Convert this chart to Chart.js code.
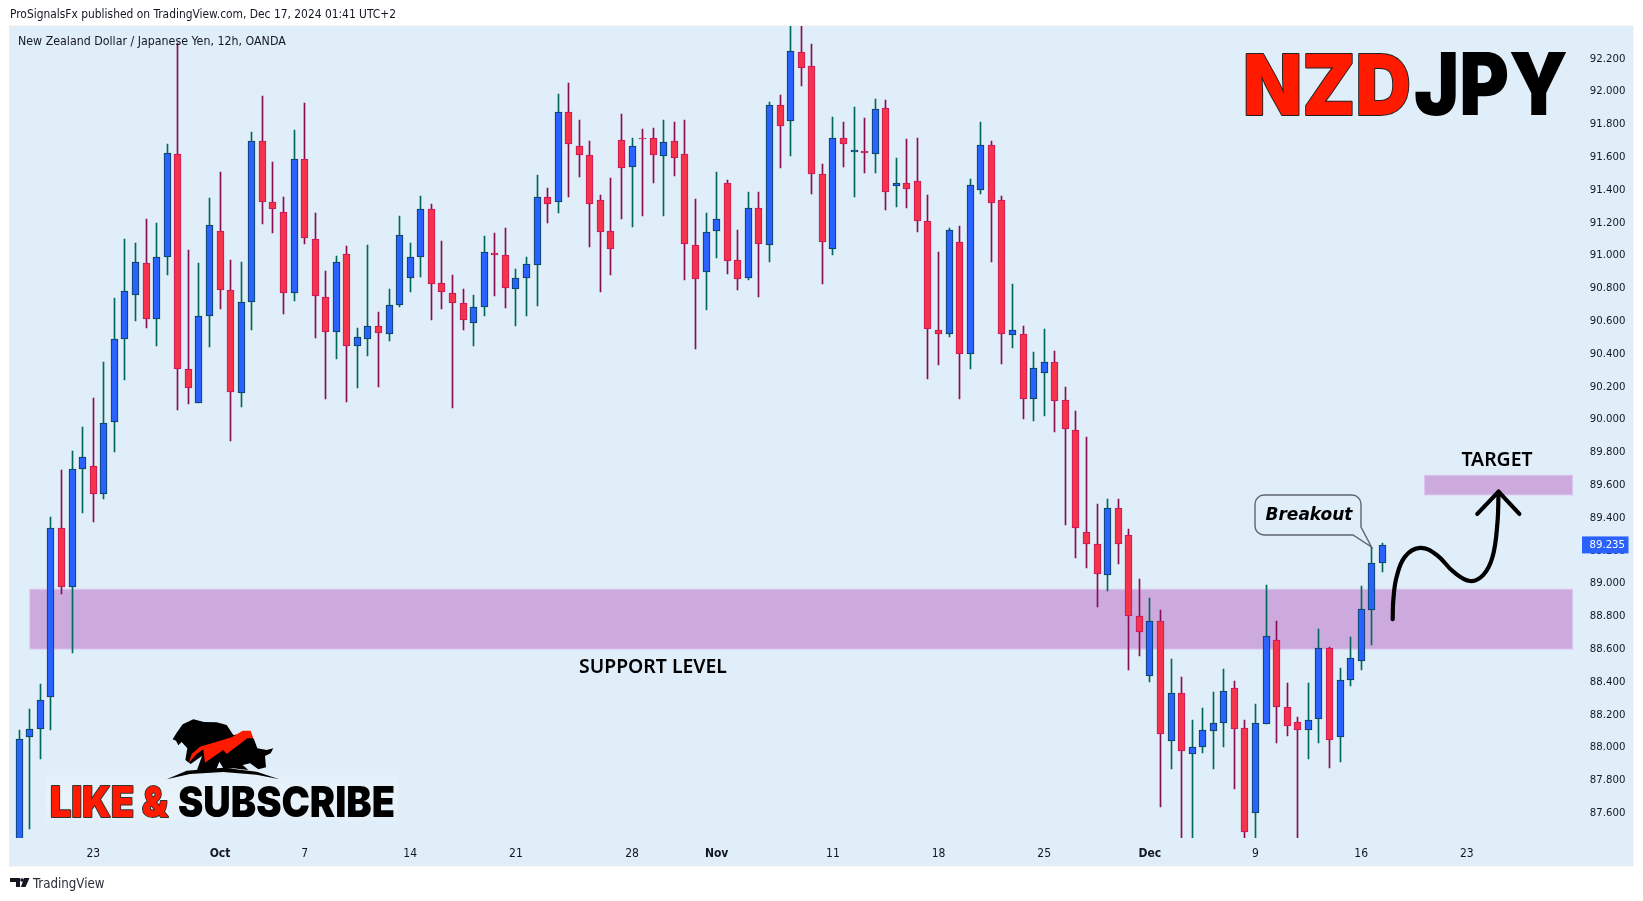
<!DOCTYPE html>
<html>
<head>
<meta charset="utf-8">
<title>NZDJPY</title>
<script src="https://cdn.jsdelivr.net/npm/chart.js@4/dist/chart.umd.min.js"></script>
<style>
html, body { margin: 0; padding: 0; background: #fff; }
canvas { display: block; }
</style>
</head>
<body>
<canvas id="chart" width="1643" height="901"></canvas>
<script>
// 12h candles, oldest first
const opens = [
  87.40,88.062,88.111,88.306,89.336,88.977,89.696,89.715,89.548,89.987,
  90.489,90.757,90.952,90.611,90.989,91.617,90.306,90.099,90.629,91.147,
  90.788,90.160,90.714,91.696,91.324,91.263,90.769,91.586,91.099,90.745,
  90.532,91.007,90.446,90.489,90.568,90.519,90.696,90.861,90.989,91.281,
  90.830,90.769,90.708,90.586,90.684,91.013,91.001,90.794,90.861,90.940,
  91.355,91.324,91.873,91.666,91.611,91.336,91.147,91.702,91.537,91.716,
  91.714,91.605,91.696,91.617,91.062,90.897,91.147,91.440,90.970,90.861,
  91.288,91.062,91.916,91.818,92.239,92.153,91.495,91.038,91.714,91.632,
  91.635,91.617,91.897,91.422,91.440,91.452,91.208,90.544,90.519,91.080,
  90.397,91.397,91.672,91.336,90.513,90.519,90.123,90.282,90.349,90.117,
  89.934,89.312,89.239,89.050,89.459,89.294,88.800,88.434,88.770,88.038,
  88.331,87.959,88.001,88.099,88.147,88.361,88.117,87.600,88.141,88.654,
  88.245,88.153,88.105,88.172,88.605,88.062,88.410,88.525,88.836,89.123
]
const highs = [
  88.107,88.235,88.387,89.404,89.692,89.808,89.952,90.131,90.351,90.739,
  91.101,91.074,91.221,91.196,91.678,92.298,91.034,90.952,91.349,91.507,
  90.973,90.958,91.751,91.973,91.568,91.355,91.763,91.928,91.257,90.903,
  90.995,91.056,90.556,91.062,90.653,90.794,91.239,91.074,91.361,91.312,
  91.086,90.879,90.794,90.757,91.117,91.135,91.166,90.916,90.989,91.489,
  91.409,91.983,92.050,91.824,91.696,91.367,91.470,91.861,91.714,91.769,
  91.775,91.824,91.812,91.824,91.342,91.257,91.507,91.458,91.153,91.385,
  91.385,91.934,91.977,92.45,92.45,92.290,91.556,91.842,91.812,91.903,
  91.836,91.952,91.946,91.592,91.708,91.714,91.367,91.019,91.166,91.178,
  91.464,91.812,91.696,91.361,90.824,90.568,90.410,90.550,90.416,90.196,
  90.050,89.892,89.483,89.514,89.514,89.331,89.026,88.910,88.837,88.538,
  88.428,88.166,88.239,88.336,88.477,88.404,88.166,88.263,88.989,88.769,
  88.391,88.184,88.391,88.721,88.611,88.483,88.672,88.983,89.221,89.245
]
const lows = [
  87.30,87.505,87.932,88.109,88.938,88.578,89.432,89.377,89.517,89.804,
  90.243,90.603,90.560,90.450,90.881,90.060,90.097,90.099,90.444,90.676,
  89.871,90.078,90.548,91.194,91.139,90.645,90.725,91.072,90.499,90.127,
  90.371,90.109,90.194,90.389,90.200,90.481,90.686,90.777,90.871,90.609,
  90.676,90.07,90.548,90.450,90.633,90.755,90.682,90.572,90.633,90.694,
  91.200,91.261,91.359,91.481,91.054,90.779,90.883,91.225,91.176,91.243,
  91.444,91.243,91.487,90.853,90.432,90.670,90.987,90.889,90.792,90.849,
  90.749,90.962,91.536,91.609,92.036,91.377,90.828,91.0,91.542,91.359,
  91.505,91.505,91.279,91.298,91.292,91.145,90.249,90.334,90.501,90.127,
  90.310,91.377,90.962,90.340,90.438,90.005,89.993,90.024,89.926,89.359,
  89.158,89.097,88.859,88.951,89.121,88.475,88.560,88.402,87.640,87.871,
  87.40,87.40,87.969,87.871,88.005,87.746,87.40,87.40,88.141,88.025,
  88.072,87.40,87.932,88.025,87.877,87.914,88.377,88.475,88.627,89.072
]
const closes = [
  88.05,88.111,88.288,89.336,88.977,89.696,89.769,89.548,89.977,90.489,
  90.781,90.958,90.611,90.989,91.623,90.306,90.190,90.629,91.184,90.788,
  90.166,90.714,91.696,91.324,91.281,90.769,91.586,91.105,90.751,90.532,
  90.958,90.446,90.501,90.568,90.525,90.696,91.123,90.989,91.281,90.824,
  90.775,90.708,90.605,90.684,91.019,91.001,90.800,90.861,90.946,91.355,
  91.312,91.873,91.678,91.611,91.312,91.141,91.037,91.531,91.666,91.708,
  91.611,91.690,91.592,91.068,90.855,91.141,91.220,90.964,90.855,91.288,
  91.068,91.916,91.788,92.245,92.141,91.495,91.080,91.714,91.678,91.640,
  91.623,91.891,91.385,91.440,91.403,91.208,90.550,90.519,91.153,90.397,
  91.428,91.672,91.318,90.519,90.544,90.123,90.312,90.349,90.111,89.940,
  89.337,89.239,89.056,89.459,89.239,88.800,88.703,88.770,88.081,88.331,
  87.977,88.001,88.105,88.147,88.343,88.111,87.487,88.147,88.678,88.245,
  88.129,88.105,88.166,88.605,88.044,88.410,88.544,88.842,89.123,89.235
]

// time axis: slot count includes the empty space right of the last candle
const slotCount = 148
const tickSlots = [7, 19, 27, 37, 47, 58, 66, 77, 87, 97, 107, 117, 127, 137]
const tickNames = ['23', 'Oct', '7', '14', '21', '28', 'Nov', '11', '18', '25', 'Dec', '9', '16', '23']
const boldTicks = ['Oct', 'Nov', 'Dec']

const supportZone = [88.6, 88.965]
const supportSlots = [1, 147]
const targetZone = [89.54, 89.66]
const targetSlots = [133, 147]
const lastPrice = 89.235

// hand drawn projection, slot / price pairs
const arrowX = [129.98, 130.04, 130.36, 131.15, 132.57, 134.15, 135.72, 137.3, 138.56, 139.44, 139.89, 140.0]
const arrowY = [88.782, 88.899, 89.042, 89.164, 89.217, 89.174, 89.072, 89.015, 89.052, 89.164, 89.367, 89.56]
const headX = [137.99, 140.0, 141.97]
const headY = [89.424, 89.56, 89.424]

const UP = '#2962ff', UP_EDGE = '#06414a', UP_WICK = '#00695c'
const DOWN = '#f7334b', DOWN_EDGE = '#c2185b', DOWN_WICK = '#880e4f'
const PANEL = '#e0eef9', ZONE = '#cdaade', ZONE_EDGE = '#dcc6f0', INK = '#131722'
const UI_FONT = '"DejaVu Sans Condensed", "DejaVu Sans"'

const labels = Array.from({ length: slotCount }, (_, i) => {
  const k = tickSlots.indexOf(i)
  return k < 0 ? '' : tickNames[k]
})
const isUp = i => closes[i] >= opens[i]

function text(ctx, str, x, y, font, color, align = 'left') {
  ctx.font = font
  ctx.fillStyle = color
  ctx.textAlign = align
  ctx.textBaseline = 'middle'
  ctx.fillText(str, x, y)
}

function poly(ctx, pts, color) {
  ctx.fillStyle = color
  ctx.beginPath()
  pts.forEach((p, i) => i ? ctx.lineTo(p[0], p[1]) : ctx.moveTo(p[0], p[1]))
  ctx.closePath()
  ctx.fill()
}

// heavy logo lettering squeezed to the measured width
function fitText(ctx, str, x, width, base, font, fill, edge) {
  ctx.save()
  ctx.font = font
  ctx.textAlign = 'left'
  ctx.textBaseline = 'alphabetic'
  ctx.translate(x, base)
  ctx.scale(width / ctx.measureText(str).width, 1)
  if (edge) {
    ctx.lineWidth = 2
    ctx.strokeStyle = edge
    ctx.lineJoin = 'round'
    ctx.strokeText(str, 0, 0)
  }
  ctx.fillStyle = fill
  ctx.fillText(str, 0, 0)
  ctx.restore()
}

function drawMascot(ctx) {
  // coordinates noted on a 3x crop with origin 0,680
  const z = p => [p[0] / 3, 680 + p[1] / 3]
  poly(ctx, [[518,178],[530,158],[548,133],[580,118],[612,126],[650,127],[680,135],[700,165],[745,160],[762,178],[772,205],[800,210],[820,205],[812,220],[795,228],[798,262],[775,268],[750,250],[728,255],[745,270],[700,265],[672,268],[658,245],[648,270],[590,273],[606,228],[572,252],[556,240],[562,205],[545,186],[535,196],[528,182]].map(z), '#000')
  poly(ctx, [[566,250],[575,222],[600,200],[650,185],[695,172],[728,152],[752,152],[760,175],[742,175],[680,222],[670,210],[615,248],[610,208],[590,222],[572,242]].map(z), '#ff1a00')
  poly(ctx, [[500,298],[560,272],[670,263],[770,275],[838,298],[770,284],[670,276],[570,282]].map(z), '#000')
}

function drawBubble(ctx) {
  const x0 = 1255, y0 = 495, x1 = 1361, y1 = 535, r = 9
  ctx.beginPath()
  ctx.moveTo(x0 + r, y0)
  ctx.arcTo(x1, y0, x1, y1, r)
  ctx.lineTo(x1, 527)
  ctx.lineTo(1371.5, 547)
  ctx.lineTo(1353, 535)
  ctx.arcTo(x0, y1, x0, y0, r)
  ctx.arcTo(x0, y0, x1, y0, r)
  ctx.closePath()
  ctx.fillStyle = PANEL
  ctx.fill()
  ctx.lineWidth = 1.4
  ctx.strokeStyle = '#5d6670'
  ctx.stroke()
  text(ctx, 'Breakout', 1309, 516, 'italic bold 17px "DejaVu Sans"', '#000', 'center')
}

const backdrop = {
  id: 'backdrop',
  beforeDraw(chart) {
    const { ctx, width, height } = chart
    ctx.save()
    ctx.fillStyle = '#fff'
    ctx.fillRect(0, 0, width, height)
    ctx.fillStyle = PANEL
    ctx.fillRect(9.5, 26, 1623.5, 840)
    ctx.strokeStyle = '#e9edf2'
    ctx.strokeRect(9.5, 26, 1623.5, 840)
    ctx.restore()
  },
  beforeDatasetsDraw(chart) {
    const { ctx, scales: { x, y } } = chart
    const band = (slots, zone) => {
      const l = x.getPixelForValue(slots[0]), r = x.getPixelForValue(slots[1])
      const t = y.getPixelForValue(zone[1]), b = y.getPixelForValue(zone[0])
      ctx.fillStyle = ZONE
      ctx.fillRect(l, t, r - l, b - t)
      ctx.strokeStyle = ZONE_EDGE
      ctx.strokeRect(l, t, r - l, b - t)
    }
    ctx.save()
    band(supportSlots, supportZone)
    band(targetSlots, targetZone)
    ctx.restore()
  },
  afterDraw(chart) {
    const { ctx, scales: { y } } = chart
    ctx.save()
    text(ctx, 'ProSignalsFx published on TradingView.com, Dec 17, 2024 01:41 UTC+2', 10, 15, '11.9px ' + UI_FONT, INK)
    text(ctx, 'New Zealand Dollar / Japanese Yen, 12h, OANDA', 18, 42, '12.3px ' + UI_FONT, INK)
    text(ctx, 'TradingView', 33, 885, '13.2px ' + UI_FONT, '#2a2e39')
    poly(ctx, [[10,878],[20,878],[20,887],[16,887],[16,882],[10,882]], '#131722')
    poly(ctx, [[24,878],[29.5,878],[25.5,887],[21,887]], '#131722')
    ctx.fillStyle = '#131722'
    ctx.beginPath()
    ctx.arc(22, 880, 1.8, 0, Math.PI * 2)
    ctx.fill()

    // price tag sits over the axis labels
    const py = y.getPixelForValue(lastPrice)
    ctx.fillStyle = UP
    ctx.fillRect(1582, py - 8.5, 46.5, 17)
    text(ctx, lastPrice.toFixed(3), 1589.5, py, '11.3px ' + UI_FONT, '#fff')

    fitText(ctx, 'NZD', 1243, 168, 114.5, '900 84px Inter', '#ff1a00', '#222')
    fitText(ctx, 'JPY', 1414, 154, 115, '900 86px Inter', '#000')

    text(ctx, 'TARGET', 1497, 460, '600 19.4px "Noto Sans"', '#000', 'center')
    text(ctx, 'SUPPORT LEVEL', 653, 667.5, '600 19.4px "Noto Sans"', '#000', 'center')
    drawBubble(ctx)

    const glow = ctx.createLinearGradient(0, 765, 0, 825)
    glow.addColorStop(0, 'rgba(240,246,251,0)')
    glow.addColorStop(0.55, 'rgba(240,246,251,0.6)')
    glow.addColorStop(1, 'rgba(240,246,251,0.15)')
    ctx.fillStyle = glow
    ctx.fillRect(46, 765, 352, 56)
    drawMascot(ctx)
    fitText(ctx, 'LIKE &', 50, 118, 817, '900 42px Inter', '#ff1a00', '#333')
    fitText(ctx, 'SUBSCRIBE', 178, 217, 817, '900 42px Inter', '#000')
    ctx.restore()
  }
}

// snap candles to whole pixels so wicks stay crisp like the reference
const snapBars = {
  id: 'snapBars',
  afterDatasetsUpdate(chart) {
    chart.data.datasets.forEach((ds, i) => {
      if (ds.type === 'line') return
      chart.getDatasetMeta(i).data.forEach(el => {
        el.x = Math.round(el.x - 0.5) + 0.5
        el.y = Math.round(el.y)
        el.base = Math.round(el.base)
        if (el.y === el.base) el.base = el.y + 1
      })
    })
  }
}

new Chart(document.getElementById('chart'), {
  type: 'bar',
  data: {
    labels,
    datasets: [
      {
        type: 'line',
        xAxisID: 'xArrow',
        data: arrowX.map((v, i) => ({ x: v, y: arrowY[i] })),
        borderColor: '#000',
        borderWidth: 4.2,
        borderCapStyle: 'round',
        borderJoinStyle: 'round',
        tension: 0.4,
        pointRadius: 0
      },
      {
        type: 'line',
        xAxisID: 'xArrow',
        data: headX.map((v, i) => ({ x: v, y: headY[i] })),
        borderColor: '#000',
        borderWidth: 4.2,
        borderCapStyle: 'round',
        borderJoinStyle: 'round',
        tension: 0,
        pointRadius: 0
      },
      {
        data: opens.map((v, i) => [v, closes[i]]),
        backgroundColor: opens.map((_, i) => isUp(i) ? UP : DOWN),
        borderColor: opens.map((_, i) => isUp(i) ? UP_EDGE : DOWN_EDGE),
        borderWidth: 1,
        borderSkipped: false,
        barThickness: 7,
        grouped: false
      },
      {
        data: lows.map((v, i) => [v, highs[i]]),
        backgroundColor: opens.map((_, i) => isUp(i) ? UP_WICK : DOWN_WICK),
        borderWidth: 0,
        barThickness: 1,
        grouped: false
      }
    ]
  },
  options: {
    responsive: false,
    animation: false,
    devicePixelRatio: 1,
    events: [],
    layout: { padding: { left: 14, top: 26 } },
    plugins: { legend: { display: false }, tooltip: { enabled: false }, title: { display: false } },
    scales: {
      x: {
        type: 'category',
        grid: { display: false, drawTicks: false },
        border: { display: false },
        afterFit: s => { s.height = 63 },
        ticks: {
          autoSkip: false,
          maxRotation: 0,
          padding: 9,
          color: INK,
          callback: (v, i) => labels[i],
          font: c => ({
            family: UI_FONT,
            size: 12,
            weight: boldTicks.includes(labels[c.index]) ? 'bold' : 'normal'
          })
        }
      },
      // the bar defaults switch offset on, the arrow axis must line up with the slots
      xArrow: { type: 'linear', display: false, offset: false, min: -0.5, max: slotCount - 0.5 },
      y: {
        position: 'right',
        min: 87.448,
        max: 92.399,
        grid: { display: false, drawTicks: false },
        border: { display: false },
        afterFit: s => { s.width = 65.2 },
        ticks: {
          stepSize: 0.2,
          includeBounds: false,
          autoSkip: false,
          padding: 12,
          color: INK,
          font: { family: UI_FONT, size: 11.3 },
          callback: v => v.toFixed(3)
        }
      }
    }
  },
  plugins: [backdrop, snapBars]
})
</script>
</body>
</html>
